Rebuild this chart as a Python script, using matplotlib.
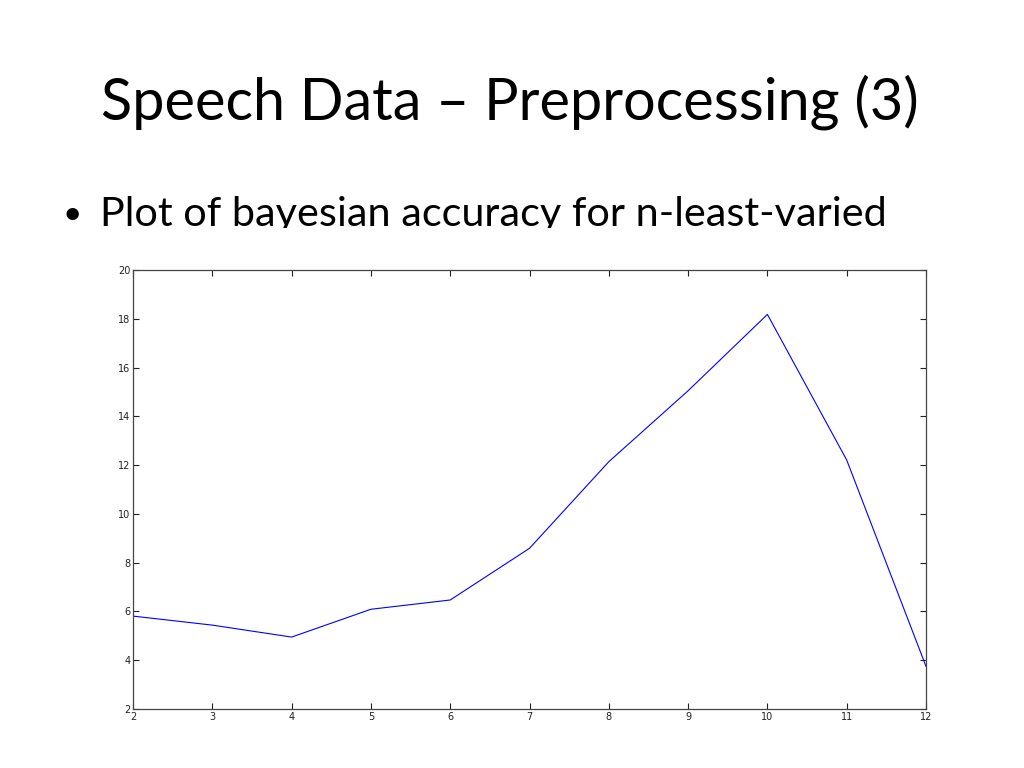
import matplotlib
matplotlib.use("Agg")
import matplotlib.pyplot as plt
from matplotlib.patches import Rectangle

# n least-varied features vs bayesian accuracy
n_features = [2, 3, 4, 5, 6, 7, 8, 9, 10, 11, 12]
accuracy = [5.81, 5.44, 4.95, 6.09, 6.47, 8.59, 12.14, 15.05, 18.18, 12.21, 3.75]
x_ticks = [2, 3, 4, 5, 6, 7, 8, 9, 10, 11, 12]
y_ticks = [2, 4, 6, 8, 10, 12, 14, 16, 18, 20]

title = "Speech Data \u2013 Preprocessing (3)"
bullet = "Plot of bayesian accuracy for n-least-varied"

fig = plt.figure(figsize=(10.24, 7.68), dpi=100)
fig.patch.set_facecolor("white")

fig.text(0.498, 0.844, title, ha="center", va="baseline",
         fontsize=41.5, family="Lato", color="black")
fig.text(0.061, 0.708, "\u2022", ha="left", va="baseline",
         fontsize=24, family="Lato", color="black")
fig.text(0.098, 0.706, bullet, ha="left", va="baseline",
         fontsize=29.8, family="Lato", color="black")
# the plot image sits on top of the bullet line and cuts its descenders
fig.patches.append(Rectangle((0.0, 0.655), 1.0, 0.048, transform=fig.transFigure,
                             facecolor="white", edgecolor="none", zorder=5))

ax = fig.add_axes([0.1299, 0.0768, 0.7744, 0.5716], zorder=6)
ax.plot(n_features, accuracy, color="#0000ff", linewidth=0.8)
ax.set_xlim(2, 12)
ax.set_ylim(2, 20)
ax.set_xticks(x_ticks)
ax.set_yticks(y_ticks)
ax.tick_params(direction="in", length=4.5, width=0.8, labelsize=7,
               top=True, right=True, colors="#222222", pad=2)
for s in ax.spines.values():
    s.set_color("#444444")
    s.set_linewidth(0.9)

fig.savefig("out.png", dpi=100, facecolor="white")
